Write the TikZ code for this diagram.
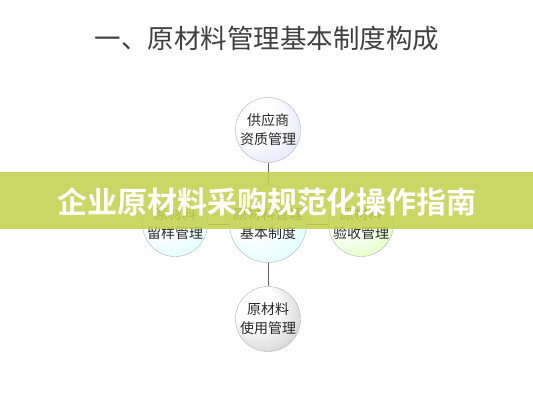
\documentclass[tikz,border=0pt]{standalone}
\usepackage{fontspec}
\newfontfamily\cjk{Noto Sans CJK SC}[BoldFont={* Bold}]
\pgfdeclareradialshading{sphtop}{\pgfpoint{-14bp}{14bp}}{color(0bp)=(white); color(16bp)=(white); color(36bp)=(black!25!blue!10!white); color(56bp)=(black!55!blue!30!white)}
\pgfdeclareradialshading{sphcyan}{\pgfpoint{-14bp}{14bp}}{color(0bp)=(white); color(18bp)=(white); color(38bp)=(cyan!15!white); color(56bp)=(cyan!40!teal!40!white)}
\pgfdeclareradialshading{sphgreen}{\pgfpoint{-14bp}{14bp}}{color(0bp)=(white); color(16bp)=(white); color(36bp)=(green!30!lime!25!white); color(56bp)=(green!60!olive!60!white)}
\pgfdeclareradialshading{sphgray}{\pgfpoint{-14bp}{14bp}}{color(0bp)=(white); color(16bp)=(white); color(36bp)=(black!18); color(56bp)=(black!50)}
\definecolor{banner}{RGB}{196,210,80}
\definecolor{txt}{RGB}{40,40,40}
\tikzset{
  ball/.style={circle, minimum size=65pt, inner sep=0pt, draw=black!30, line width=0.4pt,
    font=\cjk\fontsize{14pt}{19pt}\selectfont, text=txt, align=center},
  link/.style={draw=black!60, line width=1pt}
}
\begin{document}
\begin{tikzpicture}[x=1pt,y=-1pt]
\useasboundingbox (0,0) rectangle (533,400);
\fill[white] (0,0) rectangle (533,400);
\node[font=\cjk\fontsize{26.5pt}{30pt}\selectfont, text=black!75] (title) at (267,38) {一、原材料管理基本制度构成};
\node[ball, shading=sphtop] (top) at (268,130) {供应商\\资质管理};
\node[ball, shading=sphcyan] (left) at (175,224) {原材料\\留样管理};
\node[ball, shading=sphcyan] (mid) at (268,224) {原材料管理\\基本制度};
\node[ball, shading=sphgreen] (right) at (361,224) {原材料\\验收管理};
\node[ball, shading=sphgray] (bot) at (268,319) {原材料\\使用管理};
\draw[link] (top) -- (mid);
\draw[link] (mid) -- (bot);
\draw[link] (left) -- (mid);
\draw[link] (mid) -- (right);
\fill[banner, opacity=0.88] (0,172) rectangle (533,229);
\node[font=\cjk\bfseries\fontsize{30pt}{36pt}\selectfont, text=white] (banner) at (267,202) {企业原材料采购规范化操作指南};
\end{tikzpicture}
\end{document}
